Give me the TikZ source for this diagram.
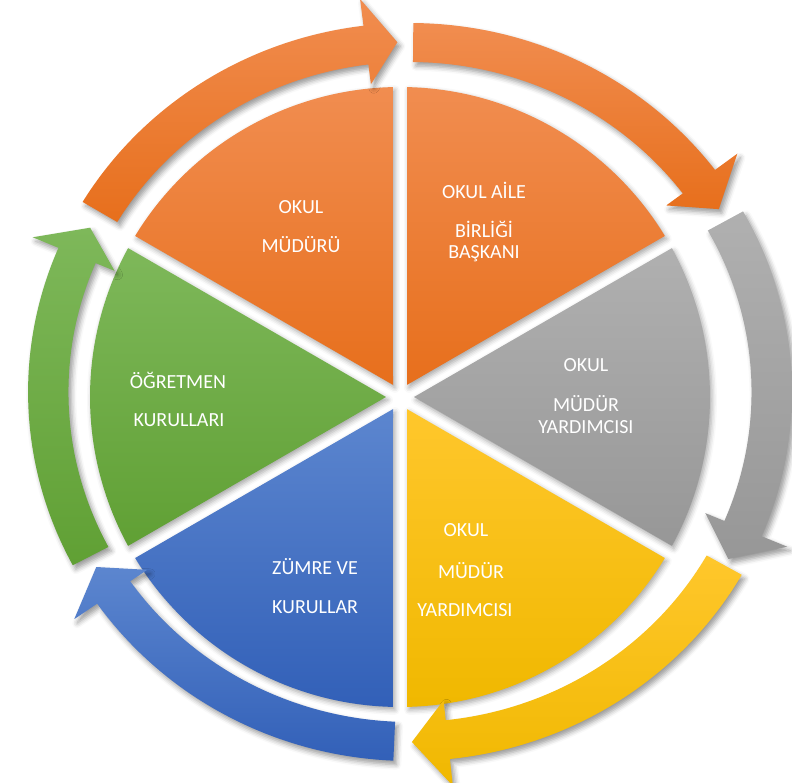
\documentclass[tikz,border=0pt]{standalone}
\usepackage{fontspec}
\setmainfont{Carlito}
\usetikzlibrary{shadows.blur}
\definecolor{orTop}{HTML}{F18D50}
\definecolor{orBot}{HTML}{E76F1C}
\definecolor{grTop}{HTML}{B0B0B0}
\definecolor{grBot}{HTML}{979797}
\definecolor{yeTop}{HTML}{FFC72C}
\definecolor{yeBot}{HTML}{F0B800}
\definecolor{blTop}{HTML}{5C86CF}
\definecolor{blBot}{HTML}{3260B8}
\definecolor{gnTop}{HTML}{7EB85A}
\definecolor{gnBot}{HTML}{60A034}
\tikzset{
  segshape/.style={blur shadow={shadow xshift=2pt,shadow yshift=-3pt,shadow blur radius=5pt,shadow opacity=35}},
  arrshape/.style={blur shadow={shadow xshift=3pt,shadow yshift=-4pt,shadow blur radius=5pt,shadow opacity=40}},
  lbl/.style={text=white,font=\fontsize{20}{24}\selectfont,anchor=base,inner sep=0pt}
}
% sector: start angle, end angle, top colour, bottom colour
\newcommand\mysector[4]{%
  \path[segshape,top color=#3,bottom color=#4]
    ({(#1+#2)/2}:14) -- ({#1+1.3}:310)
    arc[start angle={#1+1.3},end angle={#2-1.3},radius=310] -- cycle;}
% curved arrow: tail angle, head base angle, tip angle, top colour, bottom colour
\newcommand\myarrow[5]{%
  \path[arrshape,top color=#4,bottom color=#5]
    (#1:369) arc[start angle=#1,end angle=#2,radius=369]
    -- (#2:396) -- (#3:350) -- (#2:310) -- (#2:330)
    arc[start angle=#2,end angle=#1,radius=330] -- cycle;}
\begin{document}
\begin{tikzpicture}[x=1pt,y=1pt]
\useasboundingbox (-400,-385) rectangle (392,397);
% pie segments
\mysector{90}{150}{orTop}{orBot}
\mysector{30}{90}{orTop}{orBot}
\mysector{-30}{30}{grTop}{grBot}
\mysector{-90}{-30}{yeTop}{yeBot}
\mysector{210}{270}{blTop}{blBot}
\mysector{150}{210}{gnTop}{gnBot}
% arrows
\begin{scope}[shift={(10,5)},xscale=1.035]
\myarrow{149}{97}{92}{orTop}{orBot}
\myarrow{89.5}{37}{31.5}{orTop}{orBot}
\myarrow{29.3}{-23}{-28.5}{grTop}{grBot}
\myarrow{-29.7}{-84}{-89.7}{yeTop}{yeBot}
\myarrow{267.5}{215}{210}{blTop}{blBot}
\myarrow{208}{157}{152}{gnTop}{gnBot}
\end{scope}
% labels
\node[lbl] (m1) at (-99,183.5) {OKUL};
\node[lbl] (m2) at (-99,144.5) {MÜDÜRÜ};
\node[lbl] (a1) at (84,198.5) {OKUL AİLE};
\node[lbl] (a2) at (84,159.5) {BİRLİĞİ};
\node[lbl] (a3) at (84,138.5) {BAŞKANI};
\node[lbl] (g1) at (186,25.5) {OKUL};
\node[lbl] (g2) at (186,-14.5) {MÜDÜR};
\node[lbl] (g3) at (186,-36.5) {YARDIMCISI};
\node[lbl] (y1) at (66,-139.5) {OKUL};
\node[lbl] (y2) at (71,-181.5) {MÜDÜR};
\node[lbl] (y3) at (65,-219.5) {YARDIMCISI};
\node[lbl] (b1) at (-85,-177.5) {ZÜMRE VE};
\node[lbl] (b2) at (-85,-216.5) {KURULLAR};
\node[lbl] (e1) at (-222,8.5) {ÖĞRETMEN};
\node[lbl] (e2) at (-221,-29.5) {KURULLARI};
\end{tikzpicture}
\end{document}
